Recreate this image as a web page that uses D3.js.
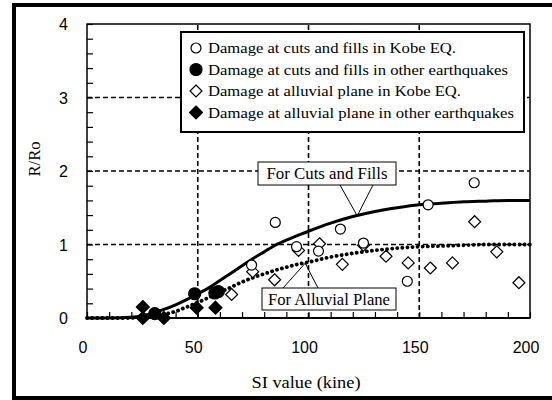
<!DOCTYPE html>
<html><head><meta charset="utf-8">
<script src="https://cdn.jsdelivr.net/npm/d3@7"></script>
<style>body{margin:0;background:#fff}svg{display:block}</style>
</head><body>
<script>
// ---- data ----
const xTicks = [0, 50, 100, 150, 200];
const yTicks = [0, 1, 2, 3, 4];
const curveX      = [0, 10, 20, 25, 30, 35, 40, 45, 50, 55, 60, 65, 70, 75, 80, 85, 90, 95, 100, 110, 120, 130, 140, 150, 160, 170, 180, 190, 200];
const cutsFillsY  = [0, 0, 0.01, 0.03, 0.07, 0.12, 0.18, 0.25, 0.33, 0.41, 0.51, 0.61, 0.71, 0.81, 0.90, 0.99, 1.06, 1.12, 1.18, 1.29, 1.38, 1.45, 1.50, 1.54, 1.56, 1.58, 1.59, 1.60, 1.60];
const alluvialY   = [0, 0, 0, 0.01, 0.02, 0.05, 0.09, 0.15, 0.21, 0.28, 0.35, 0.42, 0.49, 0.55, 0.60, 0.65, 0.69, 0.73, 0.76, 0.83, 0.88, 0.92, 0.95, 0.97, 0.98, 0.99, 1.0, 1.0, 1.0];
const cutsKobeX   = [85, 74.3, 94.6, 104.5, 114.4, 124.8, 144.6, 154, 174.8];
const cutsKobeY   = [1.30, 0.72, 0.97, 0.91, 1.21, 1.02, 0.50, 1.54, 1.84];
const cutsOtherX  = [30.6, 48.6, 57.7, 59.3];
const cutsOtherY  = [0.06, 0.33, 0.34, 0.36];
const alluvKobeX  = [65.3, 74.8, 84.7, 95.5, 105, 115.3, 124.8, 135, 145, 155, 165, 175, 185, 195];
const alluvKobeY  = [0.32, 0.63, 0.52, 0.92, 1.01, 0.73, 0.99, 0.84, 0.75, 0.68, 0.75, 1.31, 0.90, 0.48];
const alluvOtherX = [25.2, 25.2, 34.7, 49.5, 58];
const alluvOtherY = [0.15, 0.0, 0.0, 0.14, 0.14];
const legendLabels = [
  "Damage at cuts and fills in Kobe EQ.",
  "Damage at cuts and fills in other earthquakes",
  "Damage at alluvial plane in Kobe EQ.",
  "Damage at alluvial plane in other earthquakes"
];
const cutsLabel = "For Cuts and Fills";
const alluvLabel = "For Alluvial Plane";
const xTitle = "SI value (kine)";
const yTitle = "R/Ro";

// ---- layout ----
const W = 552, H = 400;
const m = {left: 87, right: 22, top: 24, bottom: 82};
const x = d3.scaleLinear().domain([0, 200]).range([m.left, W - m.right]);
const y = d3.scaleLinear().domain([0, 4]).range([H - m.bottom, m.top]);
const serif = "'Liberation Serif','Times New Roman',serif";
const sans = "'Liberation Sans',Arial,sans-serif";
const legendWidths = [248, 300, 253, 306];

const svg = d3.select("body").append("svg").attr("width", W).attr("height", H);

// outer frame
svg.append("rect").attr("x", 14).attr("y", 5).attr("width", 560).attr("height", 393)
  .attr("fill", "none").attr("stroke", "#000").attr("stroke-width", 4);

// gridlines
const grid = svg.append("g").attr("stroke", "#000").attr("stroke-width", 1.6).attr("stroke-dasharray", "5,3");
[1, 2, 3].forEach(v => grid.append("line").attr("x1", x(0)).attr("x2", x(200)).attr("y1", y(v)).attr("y2", y(v)));
[50, 100, 150].forEach(v => grid.append("line").attr("x1", x(v)).attr("x2", x(v)).attr("y1", y(0)).attr("y2", y(4)));

// minor ticks (inside)
const yAxis = d3.axisLeft(y).tickValues(d3.range(0, 4.001, 0.2)).tickSize(-6).tickFormat("");
svg.append("g").attr("transform", `translate(${x(0)},0)`).call(yAxis)
  .call(g => g.select(".domain").remove()).selectAll("line").attr("stroke-width", 1.2);
const xAxis = d3.axisBottom(x).tickValues(d3.range(0, 200.001, 10)).tickSize(-6).tickFormat("");
svg.append("g").attr("transform", `translate(0,${y(0)})`).call(xAxis)
  .call(g => g.select(".domain").remove()).selectAll("line").attr("stroke-width", 1.2);

// plot frame
svg.append("rect").attr("x", x(0)).attr("y", y(4)).attr("width", x(200) - x(0)).attr("height", y(0) - y(4))
  .attr("fill", "none").attr("stroke", "#000").attr("stroke-width", 1.5);
svg.append("line").attr("x1", x(0)).attr("x2", x(200)).attr("y1", y(0)).attr("y2", y(0)).attr("stroke", "#000").attr("stroke-width", 2);

// tick labels
svg.append("g").selectAll("text").data(yTicks).join("text")
  .attr("x", 68).attr("y", d => y(d) + 6).attr("text-anchor", "end")
  .attr("font-family", sans).attr("font-size", 16).text(d => d);
svg.append("g").selectAll("text").data(xTicks).join("text")
  .attr("x", d => x(d) - 4).attr("y", 353).attr("text-anchor", "middle")
  .attr("font-family", sans).attr("font-size", 16).text(d => d);

// axis titles
svg.append("text").attr("x", 306).attr("y", 388).attr("text-anchor", "middle")
  .attr("font-family", serif).attr("font-size", 16)
  .attr("textLength", 109).attr("lengthAdjust", "spacingAndGlyphs").text(xTitle);
svg.append("text").attr("transform", "translate(40,159) rotate(-90)").attr("text-anchor", "middle")
  .attr("font-family", serif).attr("font-size", 16)
  .attr("textLength", 35).attr("lengthAdjust", "spacingAndGlyphs").text(yTitle);

// legend
const lg = svg.append("g");
lg.append("rect").attr("x", 181).attr("y", 32).attr("width", 343).attr("height", 100)
  .attr("fill", "#fff").attr("stroke", "#000").attr("stroke-width", 2);
const rowsY = [48, 69.5, 91, 112.5];
const sym = (g, type, filled, cx, cy) => {
  if (type === "circle") {
    g.append("circle").attr("cx", cx).attr("cy", cy).attr("r", filled ? 6 : 5)
      .attr("fill", filled ? "#000" : "#fff").attr("stroke", "#000").attr("stroke-width", 1.2);
  } else {
    const s = filled ? 6.5 : 6;
    g.append("path").attr("d", `M${cx},${cy - s}L${cx + s},${cy}L${cx},${cy + s}L${cx - s},${cy}Z`)
      .attr("fill", filled ? "#000" : "#fff").attr("stroke", "#000").attr("stroke-width", 1.2);
  }
};
const legendSym = [["circle", false], ["circle", true], ["diamond", false], ["diamond", true]];
legendLabels.forEach((t, i) => {
  sym(lg, legendSym[i][0], legendSym[i][1], 196, rowsY[i]);
  lg.append("text").attr("x", 208).attr("y", rowsY[i] + 5).attr("font-family", serif).attr("font-size", 15.5)
    .attr("textLength", legendWidths[i]).attr("lengthAdjust", "spacingAndGlyphs").text(t);
});

// curves
const pairs = (xs, ys) => xs.map((v, i) => [v, ys[i]]);
const line = d3.line().x(d => x(d[0])).y(d => y(d[1])).curve(d3.curveMonotoneX);
svg.append("path").attr("d", line(pairs(curveX, alluvialY))).attr("fill", "none")
  .attr("stroke", "#000").attr("stroke-width", 3.8).attr("stroke-linecap", "round").attr("stroke-dasharray", "0.1,5");
svg.append("path").attr("d", line(pairs(curveX, cutsFillsY))).attr("fill", "none")
  .attr("stroke", "#000").attr("stroke-width", 3);

// markers
const mk = svg.append("g");
pairs(alluvKobeX, alluvKobeY).forEach(d => sym(mk, "diamond", false, x(d[0]), y(d[1])));
pairs(cutsKobeX, cutsKobeY).forEach(d => sym(mk, "circle", false, x(d[0]), y(d[1])));
pairs(alluvOtherX, alluvOtherY).forEach(d => sym(mk, "diamond", true, x(d[0]), y(d[1])));
pairs(cutsOtherX, cutsOtherY).forEach(d => sym(mk, "circle", true, x(d[0]), y(d[1])));

// annotations
const ann = (label, bx, by, bw, bh, tw, leftFoot, rightFoot, apex) => {
  const g = svg.append("g");
  g.append("path").attr("d", `M${leftFoot[0]},${leftFoot[1]}L${apex[0]},${apex[1]}L${rightFoot[0]},${rightFoot[1]}`)
    .attr("fill", "none").attr("stroke", "#000").attr("stroke-width", 1);
  g.append("rect").attr("x", bx).attr("y", by).attr("width", bw).attr("height", bh)
    .attr("fill", "#fff").attr("stroke", "#000").attr("stroke-width", 1);
  g.append("text").attr("x", bx + bw / 2).attr("y", by + bh / 2 + 5.5).attr("text-anchor", "middle")
    .attr("font-family", serif).attr("font-size", 16)
    .attr("textLength", tw).attr("lengthAdjust", "spacingAndGlyphs").text(label);
};
ann(cutsLabel, 258, 162, 138, 23, 121, [340, 185], [373, 185], [x(122), y(1.39)]);
ann(alluvLabel, 262, 288, 134, 22, 122, [283, 288], [318, 288], [x(98.5), y(0.745)]);
</script>
</body></html>
